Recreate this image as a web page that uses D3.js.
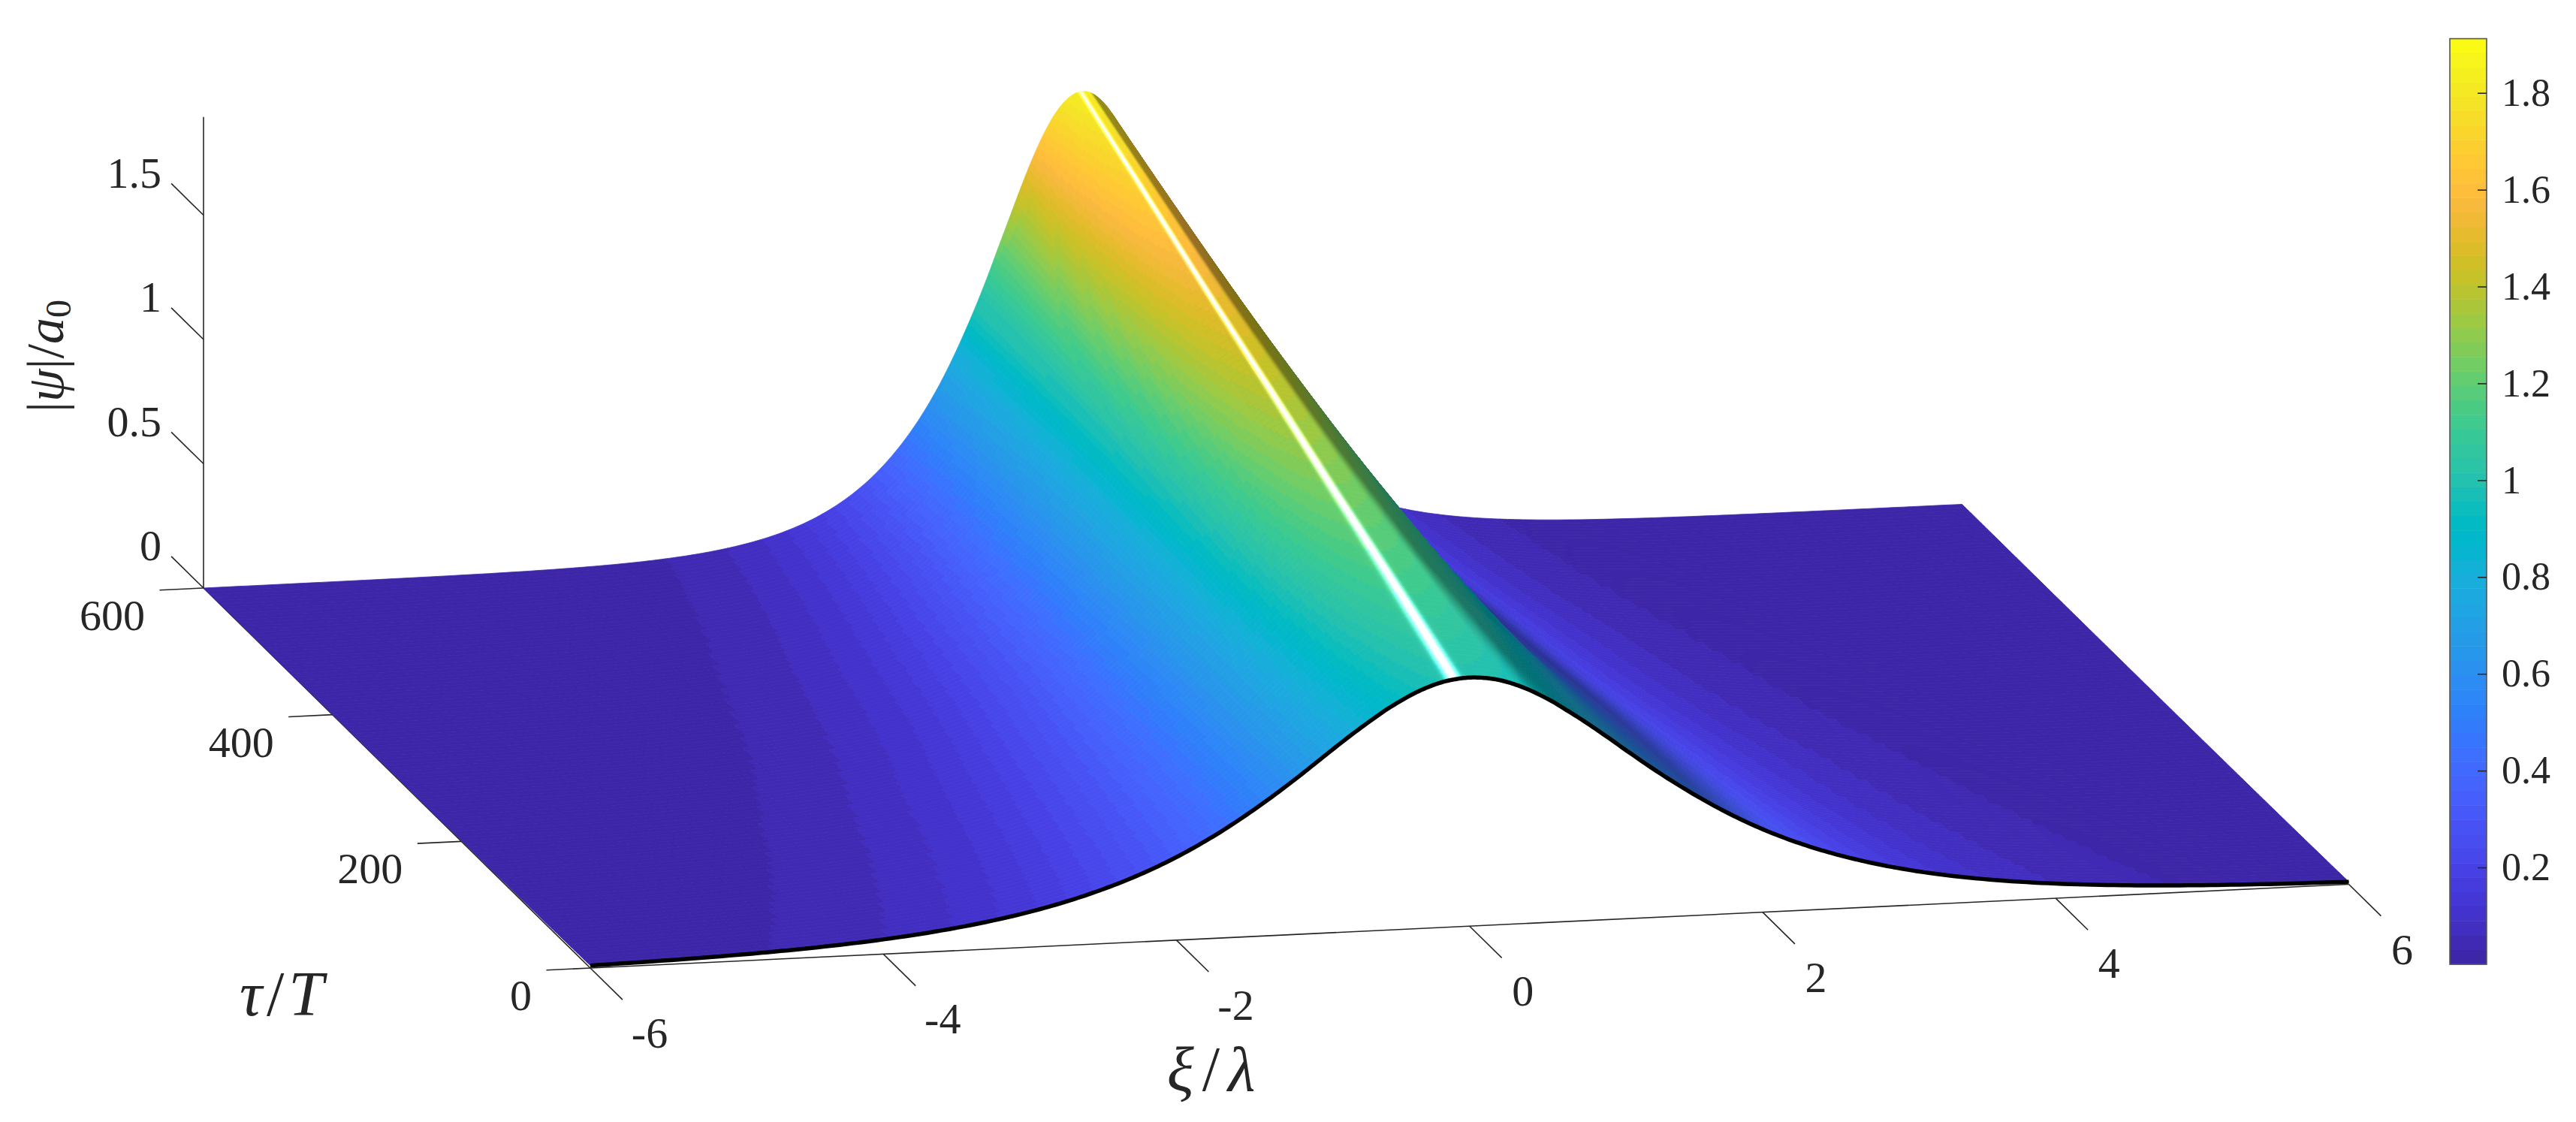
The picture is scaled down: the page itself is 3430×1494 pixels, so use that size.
<!DOCTYPE html>
<html><head><meta charset="utf-8">
<style>html,body{margin:0;background:#fff}svg{display:block}text{font-family:"Liberation Serif",serif;fill:#262626}</style>
<script src="https://cdnjs.cloudflare.com/ajax/libs/d3/7.8.5/d3.min.js"></script>
</head><body><svg id="c" width="3430" height="1494" viewBox="0 0 3430 1494"></svg>
<script>
// ---- values ----
const xiTicks=[-6,-4,-2,0,2,4,6];
const tauTicks=[0,200,400,600];
const zTicks=[0,0.5,1,1.5];
const cbTicks=[0.2,0.4,0.6,0.8,1,1.2,1.4,1.6,1.8];
const tauRows=[0,100,200,300,400,500,600];
// |xi| sample positions; the profile is mirror-symmetric about xi=0
const xiHalf=[0,.1,.2,.3,.4,.5,.6,.8,1,1.25,1.5,1.75,2,2.5,3,3.5,4,5,6];
const psiTau0  =[1.000,.996,.985,.966,.941,.910,.875,.795,.708,.599,.499,.410,.334,.219,.142,.0917,.0591,.0246,.0102];
const psiTau100=[1.120,1.114,1.098,1.071,1.036,.993,.945,.837,.726,.593,.476,.378,.298,.183,.111,.0675,.0410,.0151,.00556];
const psiTau200=[1.250,1.242,1.219,1.183,1.134,1.077,1.013,.875,.737,.581,.450,.345,.263,.1515,.0867,.0496,.0283,.00925,.00302];
const psiTau300=[1.390,1.379,1.347,1.296,1.230,1.153,1.070,.895,.730,.552,.411,.303,.222,.1189,.0634,.0338,.0180,.0051,.00145];
const psiTau400=[1.530,1.515,1.473,1.406,1.321,1.223,1.118,.908,.718,.522,.375,.267,.189,.0946,.0473,.0236,.0118,.00293,.00073];
const psiTau500=[1.680,1.661,1.605,1.517,1.407,1.284,1.154,.902,.686,.477,.327,.223,.152,.0701,.0323,.0149,.00686,.00146,.0003];
const psiTau600=[1.830,1.805,1.735,1.625,1.488,1.335,1.180,.891,.654,.436,.287,.188,.123,.0528,.0226,.00964,.00412,.00075,.00014];
const colorMax=1.912;
const parula=[[.2422,.1504,.6603],[.2504,.1650,.7076],[.2578,.1818,.7511],[.2647,.1978,.7952],[.2706,.2147,.8364],[.2751,.2342,.8710],[.2783,.2559,.8991],[.2803,.2782,.9221],[.2813,.3006,.9414],[.2810,.3228,.9579],[.2795,.3447,.9717],[.2760,.3667,.9829],[.2699,.3892,.9906],[.2602,.4123,.9952],[.2440,.4358,.9988],[.2206,.4603,.9973],[.1963,.4847,.9892],[.1834,.5074,.9798],[.1786,.5289,.9682],[.1764,.5499,.9520],[.1687,.5703,.9359],[.1540,.5902,.9218],[.1460,.6091,.9079],[.1380,.6276,.8973],[.1248,.6459,.8883],[.1113,.6635,.8763],[.0952,.6798,.8598],[.0689,.6948,.8394],[.0297,.7082,.8163],[.0036,.7203,.7917],[.0067,.7312,.7660],[.0433,.7411,.7394],[.0964,.7500,.7120],[.1408,.7584,.6842],[.1717,.7670,.6554],[.1938,.7758,.6251],[.2161,.7843,.5923],[.2470,.7918,.5567],[.2906,.7973,.5188],[.3406,.8008,.4789],[.3909,.8029,.4354],[.4456,.8024,.3909],[.5044,.7993,.3480],[.5616,.7942,.3045],[.6174,.7876,.2612],[.6720,.7793,.2227],[.7242,.7698,.1910],[.7738,.7598,.1646],[.8203,.7498,.1535],[.8634,.7406,.1596],[.9035,.7330,.1774],[.9393,.7288,.2100],[.9728,.7298,.2394],[.9956,.7434,.2371],[.9970,.7659,.2199],[.9952,.7893,.2028],[.9892,.8136,.1885],[.9786,.8386,.1766],[.9676,.8639,.1643],[.9610,.8890,.1537],[.9597,.9135,.1423],[.9628,.9373,.1265],[.9691,.9606,.1064],[.9769,.9839,.0805]];

// ---- projection built from linear scales ----
const xiToX=d3.scaleLinear().domain([-6,6]).range([271,2612.5]);
const xiToY=d3.scaleLinear().domain([-6,6]).range([0,-111.5]);
const tauToX=d3.scaleLinear().domain([0,600]).range([515,0]);
const tauToY=d3.scaleLinear().domain([0,600]).range([1289,783]);
const zToY=d3.scaleLinear().domain([0,1]).range([0,-331]);
const project=(xi,tau,z)=>[xiToX(xi)+tauToX(tau),tauToY(tau)+xiToY(xi)+zToY(z)];
const colorIndex=d3.scaleQuantize().domain([0,colorMax]).range(d3.range(parula.length));

// ---- resample the read table on a fine drawing mesh ----
function hermite(xs,ys,x){
  let i=d3.bisectRight(xs,x)-1; i=Math.max(0,Math.min(xs.length-2,i));
  const h=xs[i+1]-xs[i],t=(x-xs[i])/h;
  const slope=k=>k<=0?(ys[1]-ys[0])/(xs[1]-xs[0]):k>=xs.length-1?(ys[k]-ys[k-1])/(xs[k]-xs[k-1]):(ys[k+1]-ys[k-1])/(xs[k+1]-xs[k-1]);
  const m0=slope(i),m1=slope(i+1),t2=t*t,t3=t2*t;
  return (2*t3-3*t2+1)*ys[i]+(t3-2*t2+t)*h*m0+(-2*t3+3*t2)*ys[i+1]+(t3-t2)*h*m1;
}
const xiFull=[...xiHalf.slice(1).map(d=>-d).reverse(),...xiHalf];
const logRows=[psiTau0,psiTau100,psiTau200,psiTau300,psiTau400,psiTau500,psiTau600]
  .map(r=>[...r.slice(1).reverse(),...r].map(Math.log));
const pos=Array.from(new Set([...d3.range(0,40).map(k=>k/100),...d3.range(20,60).map(k=>k/50),...d3.range(48,120).map(k=>k/40),...d3.range(60,121).map(k=>k/20)]));
const meshXi=[...pos.slice(1).map(d=>-d).reverse(),...pos];
const meshTau=d3.range(0,121).map(k=>k*5);
const rowsOnMesh=logRows.map(r=>meshXi.map(x=>hermite(xiFull,r,x)));
const Z=meshTau.map(t=>meshXi.map((_,j)=>Math.exp(hermite(tauRows,rowsOnMesh.map(r=>r[j]),t))));

// ---- shading of the lit surface ----
const smooth=(a,b,x)=>{const t=Math.max(0,Math.min(1,(x-a)/(b-a)));return t*t*(3-2*t)};
function cellColor(z,g,peak){
  const c=parula[colorIndex(Math.min(z,colorMax-1e-6))];
  const f=1-.4*smooth(.22,.38,-g);
  const w=.028+.032*(peak-1)/.85;
  const s=Math.exp(-Math.pow((g-.08)/w,2))*smooth(.85,.97,z/peak);
  return d3.rgb(...c.map(v=>255*Math.min(1,v*f+s))).formatHex();
}

const svg=d3.select("#c");
const axisG=svg.append("g").attr("stroke","#262626").attr("stroke-width",1.6).attr("fill","none");
const seg=(a,b)=>axisG.append("line").attr("x1",a[0]).attr("y1",a[1]).attr("x2",b[0]).attr("y2",b[1]);
seg(project(-6,0,0),project(6,0,0));
seg(project(-6,0,0),project(-6,600,0));
seg(project(-6,600,0),project(-6,600,1.895));
xiTicks.forEach(v=>seg(project(v,0,0),project(v,-50,0)));
tauTicks.forEach(v=>seg(project(-6,v,0),project(-6.3,v,0)));
zTicks.forEach(v=>seg(project(-6,600,v),project(-6,650,v)));

// ---- surface, back to front ----
const polys=[];
for(let i=meshTau.length-2;i>=0;i--){
  const zA=Z[i],zB=Z[i+1],mid=(meshXi.length-1)/2,peak=(zA[mid]+zB[mid])/2;
  let run=null;
  for(let j=meshXi.length-2;j>=0;j--){
    const z=(zA[j]+zA[j+1]+zB[j]+zB[j+1])/4;
    const g=((zA[j+1]+zB[j+1])-(zA[j]+zB[j]))/2/(meshXi[j+1]-meshXi[j]);
    const fill=cellColor(z,g,peak);
    if(run&&run.fill===fill){run.to=j;}
    else{ if(run)polys.push(run); run={fill,i,from:j+1,to:j}; }
  }
  polys.push(run);
}
const polyLine=d3.line();
svg.append("g").selectAll("path").data(polys).join("path")
 .attr("fill",d=>d.fill).attr("stroke",d=>d.fill).attr("stroke-width",.8).attr("stroke-linejoin","round")
 .attr("d",d=>{
   const pts=[];
   for(let j=d.from;j>=d.to;j--)pts.push(project(meshXi[j],meshTau[d.i],Z[d.i][j]));
   for(let j=d.to;j<=d.from;j++)pts.push(project(meshXi[j],meshTau[d.i+1],Z[d.i+1][j]));
   return polyLine(pts)+"Z";
 });

// ---- black front profile ----
svg.append("path").attr("fill","none").attr("stroke","#000").attr("stroke-width",5.5)
 .attr("d",d3.line()(meshXi.map((x,j)=>project(x,0,Z[0][j]))));

// ---- tick labels ----
const labels=svg.append("g").attr("font-size",58);
xiTicks.forEach(v=>{const p=project(v,0,0);
 labels.append("text").attr("x",p[0]+(v<0?79:71)).attr("y",p[1]+106).attr("text-anchor","middle").text(v);});
tauTicks.forEach(v=>{const p=project(-6,v,0);
 labels.append("text").attr("x",p[0]-78).attr("y",p[1]+56).attr("text-anchor","end").text(v);});
zTicks.forEach(v=>{const p=project(-6,600,v);
 labels.append("text").attr("x",p[0]-56).attr("y",p[1]-37).attr("text-anchor","end").text(v);});

// ---- axis titles ----
function title(sel,size){sel.attr("font-size",size);return sel;}
const t1=title(svg.append("text").attr("x",1618).attr("y",1452).attr("text-anchor","middle").attr("letter-spacing",11),84);
t1.append("tspan").attr("font-style","italic").text("ξ");t1.append("tspan").text("/");t1.append("tspan").attr("font-style","italic").text("λ");
const t2=title(svg.append("text").attr("x",378).attr("y",1352).attr("text-anchor","middle").attr("letter-spacing",6),84);
t2.append("tspan").attr("font-style","italic").text("τ");t2.append("tspan").text("/");t2.append("tspan").attr("font-style","italic").text("T");
const t3=title(svg.append("text").attr("transform","translate(84,474) rotate(-90)").attr("text-anchor","middle"),70);
t3.append("tspan").text("|");t3.append("tspan").attr("font-style","italic").text("ψ");t3.append("tspan").text("|/");
t3.append("tspan").attr("font-style","italic").text("a");t3.append("tspan").attr("font-size",48).attr("dy",10).text("0");

// ---- colour bar ----
const cbY=d3.scaleLinear().domain([0,colorMax]).range([1284,51.5]);
const cb=svg.append("g");
const step=colorMax/parula.length;
cb.selectAll("rect").data(parula).join("rect")
 .attr("x",3262).attr("width",49)
 .attr("y",(d,i)=>cbY((i+1)*step)).attr("height",(d,i)=>cbY(i*step)-cbY((i+1)*step)+.5)
 .attr("fill",d=>d3.rgb(d[0]*255,d[1]*255,d[2]*255).formatHex());
cb.append("rect").attr("x",3262).attr("y",51.5).attr("width",49).attr("height",1232.5)
 .attr("fill","none").attr("stroke","#555").attr("stroke-width",1.6);
const cbAxis=cb.append("g").attr("transform","translate(3311,0)")
 .call(d3.axisRight(cbY).tickValues(cbTicks).tickSize(-12).tickPadding(20).tickFormat(String));
cbAxis.select(".domain").remove();
cbAxis.selectAll("line").attr("stroke","#262626").attr("stroke-width",1.6);
cbAxis.selectAll("text").attr("font-size",52).attr("font-family",'"Liberation Serif",serif').attr("fill","#262626");
</script></body></html>
